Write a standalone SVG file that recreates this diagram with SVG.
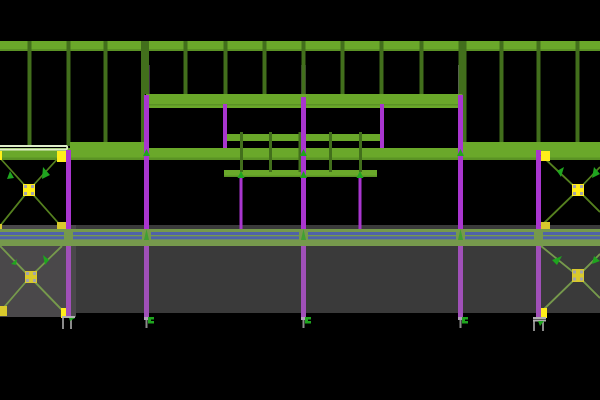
<svg xmlns="http://www.w3.org/2000/svg" xmlns:xlink="http://www.w3.org/1999/xlink" width="600" height="400" viewBox="0 0 600 400">
<style>
.g{fill:#6aa82a}.gd{fill:#5b9325}.h{stroke:#426f1c;stroke-width:4;fill:none}
.p{fill:#a936cf}.pf{fill:#a050b8}
.br{stroke:#55801f;stroke-width:1.800;fill:none}
.brs{stroke:#76994c;stroke-width:1.800;fill:none}
.pl{fill:#ffee1a}.plf{fill:#d8c92c}
.b{fill:#4f63a8}.gb{fill:#76994c}
.a{fill:#1fa51f}.s{fill:#a4a4aa}
.leg{stroke:#8a8a8a;stroke-width:2;fill:none}
</style>
<defs>
<g id="bolts" class="s"><rect x="-5" y="-5" width="3" height="3"/><rect x="2" y="-5" width="3" height="3"/><rect x="-5" y="2" width="3" height="3"/><rect x="2" y="2" width="3" height="3"/></g>
<path id="tip" d="M0-6 3.500 1H-3.500Z" class="a"/>
</defs>
<rect width="600" height="400" fill="#000"/>
<g id="slab">
<rect x="0" y="225" width="600" height="88" fill="#3a3a3a"/>
<rect x="0" y="225" width="76" height="92" fill="#4a484a"/>
</g>
<g id="top-beam"><rect class="g" y="41" width="600" height="10"/><rect class="gd" y="49" width="600" height="2"/></g>
<g id="upper-stubs"><rect x="147.500" y="65" width="2" height="30" fill="#7d5a8a"/><rect x="458" y="65" width="5" height="30" fill="#6a5a7a"/><rect x="301.500" y="65" width="4" height="30" fill="#6a5a7a"/></g>
<g id="hangers" class="h">
<path d="M29.500 41V146M68.500 41V146M105.500 41V146M143 41V146M147 41V94M185.500 41V94M225.500 41V94M264.500 41V94M303.500 41V94M342.500 41V94M381.500 41V94M421.500 41V94M460.500 41V94M464.500 41V146M501.500 41V146M538.500 41V146M577.500 41V146"/>
</g>
<g id="upper-beam"><rect class="g" x="146" y="94" width="316" height="14"/><rect class="gd" x="146" y="104" width="316" height="1.500"/></g>
<g id="mid-beam">
<rect class="g" y="148" width="600" height="12"/>
<rect class="g" x="70" y="142" width="74" height="18"/>
<rect class="g" x="462" y="142" width="138" height="18"/>
<rect class="gd" y="157.500" width="600" height="2.500"/>
<path d="M-3 146H66.500Q68 147.500 66.500 149.500H-3" fill="none" stroke="#dfeeca" stroke-width="1.800"/>
</g>
<g id="small-beams">
<rect class="g" x="227" y="134" width="153" height="7"/>
<rect class="g" x="224" y="170" width="153" height="7"/>
<rect class="gd" x="224" y="175.500" width="153" height="1.500"/>
<path class="h" d="M241.500 132V172M270.500 132V172M300 132V172M330.500 132V172M360.500 132V172" style="stroke-width:3"/>
</g>
<g id="purple-columns-upper">
<rect class="p" x="66" y="150" width="5" height="82"/>
<rect class="p" x="144" y="95" width="5" height="137"/>
<rect class="p" x="301" y="97" width="5" height="135"/>
<rect class="p" x="458" y="95" width="5" height="137"/>
<rect class="p" x="536" y="150" width="5" height="82"/>
<rect class="p" x="223" y="104" width="4" height="44"/>
<rect class="p" x="380" y="104" width="4" height="44"/>
<rect class="p" x="239.500" y="177" width="3" height="55"/>
<rect class="p" x="358.500" y="177" width="3" height="55"/>
</g>
<g id="tips">
<use xlink:href="#tip" x="146.500" y="155"/><use xlink:href="#tip" x="303.500" y="155"/><use xlink:href="#tip" x="460.500" y="155"/>
<use xlink:href="#tip" x="241" y="177"/><use xlink:href="#tip" x="303.500" y="177"/><use xlink:href="#tip" x="360" y="177"/>
</g>
<g id="bracing-upper">
<path class="br" d="M0 158 29 190 61 155M0 226 29 190 61 226M541 155 578 190 600 167M541 226 578 190 600 212"/>
<path class="a" d="M10 171 14 178 7 179ZM43 167 50 175 42 179ZM564 167 561 177 557 171ZM594 167 600 174 592 178Z"/>
<rect class="pl" x="23" y="184" width="12" height="12"/><use xlink:href="#bolts" x="29" y="190"/>
<rect class="pl" x="572" y="184" width="12" height="12"/><use xlink:href="#bolts" x="578" y="190"/>
<rect class="pl" x="57" y="151" width="9" height="11"/><rect class="pl" x="541" y="151" width="9" height="10"/>
<rect class="pl" x="0" y="151" width="2" height="9"/>
<rect class="plf" x="57" y="222" width="9" height="9"/><rect class="plf" x="541" y="222" width="9" height="9"/><rect class="plf" x="0" y="224" width="2" height="6"/>
</g>
<g id="bracing-lower">
<path class="brs" d="M0 246 30 277 62 310M0 312 30 277 62 246M541 312 578 276 600 298M541 246 578 276 600 254"/>
<path class="a" d="M11 264 17 259 16 265ZM43 255 49 260 45 265ZM562 256 557 265 552 260ZM594 256 600 261 592 264Z"/>
<rect class="plf" x="25" y="271" width="12" height="12"/><use xlink:href="#bolts" x="31" y="277"/>
<rect class="plf" x="572" y="269" width="12" height="13"/><use xlink:href="#bolts" x="578" y="275.500"/>
<rect class="plf" x="0" y="306" width="7" height="10"/><rect class="pl" x="61" y="308" width="5" height="10"/><rect class="pl" x="541" y="308" width="6" height="10"/>
</g>
<g id="purple-columns-lower">
<rect class="pf" x="66" y="232" width="5" height="86"/>
<rect class="pf" x="144" y="232" width="5" height="86"/>
<rect class="pf" x="301" y="232" width="5" height="86"/>
<rect class="pf" x="458" y="232" width="5" height="86"/>
<rect class="pf" x="536" y="232" width="5" height="86"/>
</g>
<g id="deck">
<rect class="gb" y="229" width="600" height="17"/>
<rect class="b" y="232" width="600" height="3"/>
<rect class="b" y="236.300" width="600" height="3"/>
<rect class="gb" x="64" y="229" width="9" height="17"/><rect class="gb" x="142" y="229" width="9" height="17"/><rect class="gb" x="299" y="229" width="9" height="17"/><rect class="gb" x="456" y="229" width="9" height="17"/><rect class="gb" x="534" y="229" width="9" height="17"/>
<path class="a" d="M146.500 229 149 240H144ZM303.500 229 306 240H301ZM460.500 229 463 240H458Z" opacity=".6"/>
</g>
<g id="feet">
<path class="leg" d="M63 318V329M71 318V329M534 320V331M543 320V331M146.500 318V328M303.500 318V328M460.500 318V328"/>
<path d="M62 317H75M533 318H546M533 320.500H546" stroke="#b0b0b0" stroke-width="1.800" fill="none"/>
<path d="M144 317H149V320H144ZM301 317H306V320H301ZM458 317H463V320H458Z" fill="#b0a0b8"/>
<path class="a" d="M148 317H154V319.500H151V321H154V323.500H148ZM305 317H311V319.500H308V321H311V323.500H305ZM462 317H468V319.500H465V321H468V323.500H462ZM69 318H75L70 321ZM538 321H544L540 326Z"/>
</g>
</svg>
